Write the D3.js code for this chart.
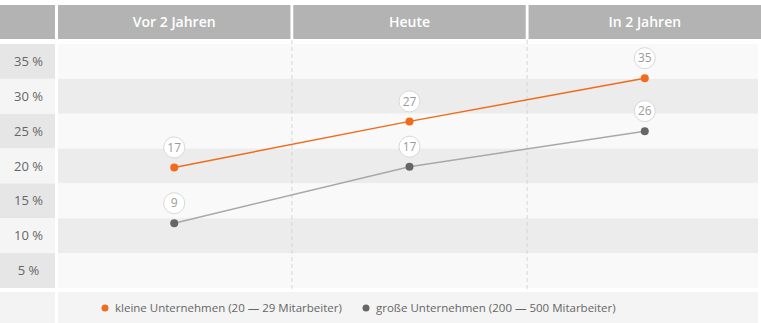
<!DOCTYPE html>
<html>
<head>
<meta charset="utf-8">
<script src="https://cdn.jsdelivr.net/npm/d3@7"></script>
<style>
  body { margin: 0; background: #fff; }
  text { font-family: "Open Sans", "Noto Sans", sans-serif; }
</style>
</head>
<body>
<div id="chart"></div>
<script>
// Data
const periods = ["Vor 2 Jahren", "Heute", "In 2 Jahren"];
const yTicks = [35, 30, 25, 20, 15, 10, 5];
const smallValues = [19.8, 26.4, 32.6];
const smallLabels = [17, 27, 35];
const largeValues = [11.8, 19.9, 25];
const largeLabels = [9, 17, 26];
const seriesNames = ["kleine Unternehmen (20 \u2014 29 Mitarbeiter)", "gro\u00dfe Unternehmen (200 \u2014 500 Mitarbeiter)"];
const seriesColors = ["#f26a1b", "#666666"];
const lineColors = ["#f26a1b", "#a8a8a8"];

const width = 761, height = 323;
const left = 58, axisW = 55;
const headTop = 5, headBottom = 39;
const plotTop = 44, plotBottom = 288;
const legendTop = 292;

const svg = d3.select("#chart").append("svg")
  .attr("width", width)
  .attr("height", height);

// Scales
const x = d3.scaleBand()
  .domain(periods)
  .range([left, width])
  .paddingInner(0.012);

const rows = d3.scaleBand()
  .domain(yTicks)
  .range([plotTop, plotBottom]);

const y = d3.scaleLinear()
  .domain([35, 5])
  .range([rows(35) + rows.bandwidth() / 2, rows(5) + rows.bandwidth() / 2]);

// Header
svg.append("rect")
  .attr("x", 0).attr("y", headTop)
  .attr("width", axisW).attr("height", headBottom - headTop)
  .attr("fill", "#b3b3b3");

let head = svg.selectAll(".head")
  .data(periods)
  .enter().append("g")
  .attr("class", "head");
head.append("rect")
  .attr("x", d => x(d))
  .attr("y", headTop)
  .attr("width", x.bandwidth())
  .attr("height", headBottom - headTop)
  .attr("fill", "#b3b3b3");
head.append("text")
  .attr("x", d => x(d) + x.bandwidth() / 2)
  .attr("y", (headTop + headBottom) / 2)
  .attr("dy", "0.35em")
  .attr("text-anchor", "middle")
  .attr("fill", "#fff")
  .attr("font-size", "14px")
  .attr("font-weight", 600)
  .text(d => d);

// Y axis bands
svg.selectAll(".axisband")
  .data(yTicks)
  .enter().append("rect")
  .attr("class", "axisband")
  .attr("x", 0)
  .attr("y", d => rows(d))
  .attr("width", axisW)
  .attr("height", rows.bandwidth())
  .attr("fill", (d, i) => i % 2 === 0 ? "#e6e6e6" : "#f5f5f5");

svg.selectAll(".ticklabel")
  .data(yTicks)
  .enter().append("text")
  .attr("class", "ticklabel")
  .attr("x", axisW / 2 + 1)
  .attr("y", d => y(d))
  .attr("dy", "0.35em")
  .attr("text-anchor", "middle")
  .attr("fill", "#666")
  .attr("font-size", "13px")
  .text(d => d + " %");

// Plot bands
svg.selectAll(".plotband")
  .data(yTicks)
  .enter().append("rect")
  .attr("class", "plotband")
  .attr("x", left)
  .attr("y", d => rows(d))
  .attr("width", width - left - 3)
  .attr("height", rows.bandwidth())
  .attr("fill", (d, i) => i % 2 === 0 ? "#f9f9f9" : "#ececec");

// Column separators
svg.selectAll(".sep")
  .data(periods.slice(1))
  .enter().append("line")
  .attr("class", "sep")
  .attr("x1", d => x(d) - x.step() * x.paddingInner() / 2)
  .attr("x2", d => x(d) - x.step() * x.paddingInner() / 2)
  .attr("y1", headBottom + 1)
  .attr("y2", plotBottom + 4)
  .attr("stroke", "#d6d6d6")
  .attr("stroke-dasharray", "4,3");

// Lines
const series = [
  {values: smallValues, labels: smallLabels},
  {values: largeValues, labels: largeLabels}
];

const line = d3.line()
  .x((d, i) => x(periods[i]) + x.bandwidth() / 2)
  .y(d => y(d));

series.forEach((s, k) => {
  svg.append("path")
    .datum(s.values)
    .attr("d", line)
    .attr("fill", "none")
    .attr("stroke", lineColors[k])
    .attr("stroke-width", 1.5);

  let pts = svg.selectAll(".pt-" + k)
    .data(s.values)
    .enter().append("g")
    .attr("class", "pt-" + k)
    .attr("transform", (d, i) => `translate(${x(periods[i]) + x.bandwidth() / 2},${y(d)})`);

  pts.append("circle")
    .attr("r", 4)
    .attr("fill", seriesColors[k]);

  pts.append("circle")
    .attr("cy", -20)
    .attr("r", 10.5)
    .attr("fill", "#fff")
    .attr("stroke", "#d9d9d9");

  pts.append("text")
    .attr("y", -20)
    .attr("dy", "0.36em")
    .attr("text-anchor", "middle")
    .attr("fill", "#9a9a9a")
    .attr("font-size", "12px")
    .text((d, i) => s.labels[i]);
});

// Legend
svg.append("rect")
  .attr("x", 0).attr("y", legendTop)
  .attr("width", axisW).attr("height", height - legendTop)
  .attr("fill", "#f3f3f3");
svg.append("rect")
  .attr("x", left).attr("y", legendTop)
  .attr("width", width - left - 3).attr("height", height - legendTop)
  .attr("fill", "#f4f4f4");

const legendX = [105, 366];
const legendY = 308;
seriesNames.forEach((name, k) => {
  svg.append("circle")
    .attr("cx", legendX[k])
    .attr("cy", legendY)
    .attr("r", 3.5)
    .attr("fill", seriesColors[k]);
  svg.append("text")
    .attr("x", legendX[k] + 10)
    .attr("y", legendY)
    .attr("dy", "0.35em")
    .attr("fill", "#666")
    .attr("font-size", "11.5px")
    .text(name);
});
</script>
</body>
</html>
